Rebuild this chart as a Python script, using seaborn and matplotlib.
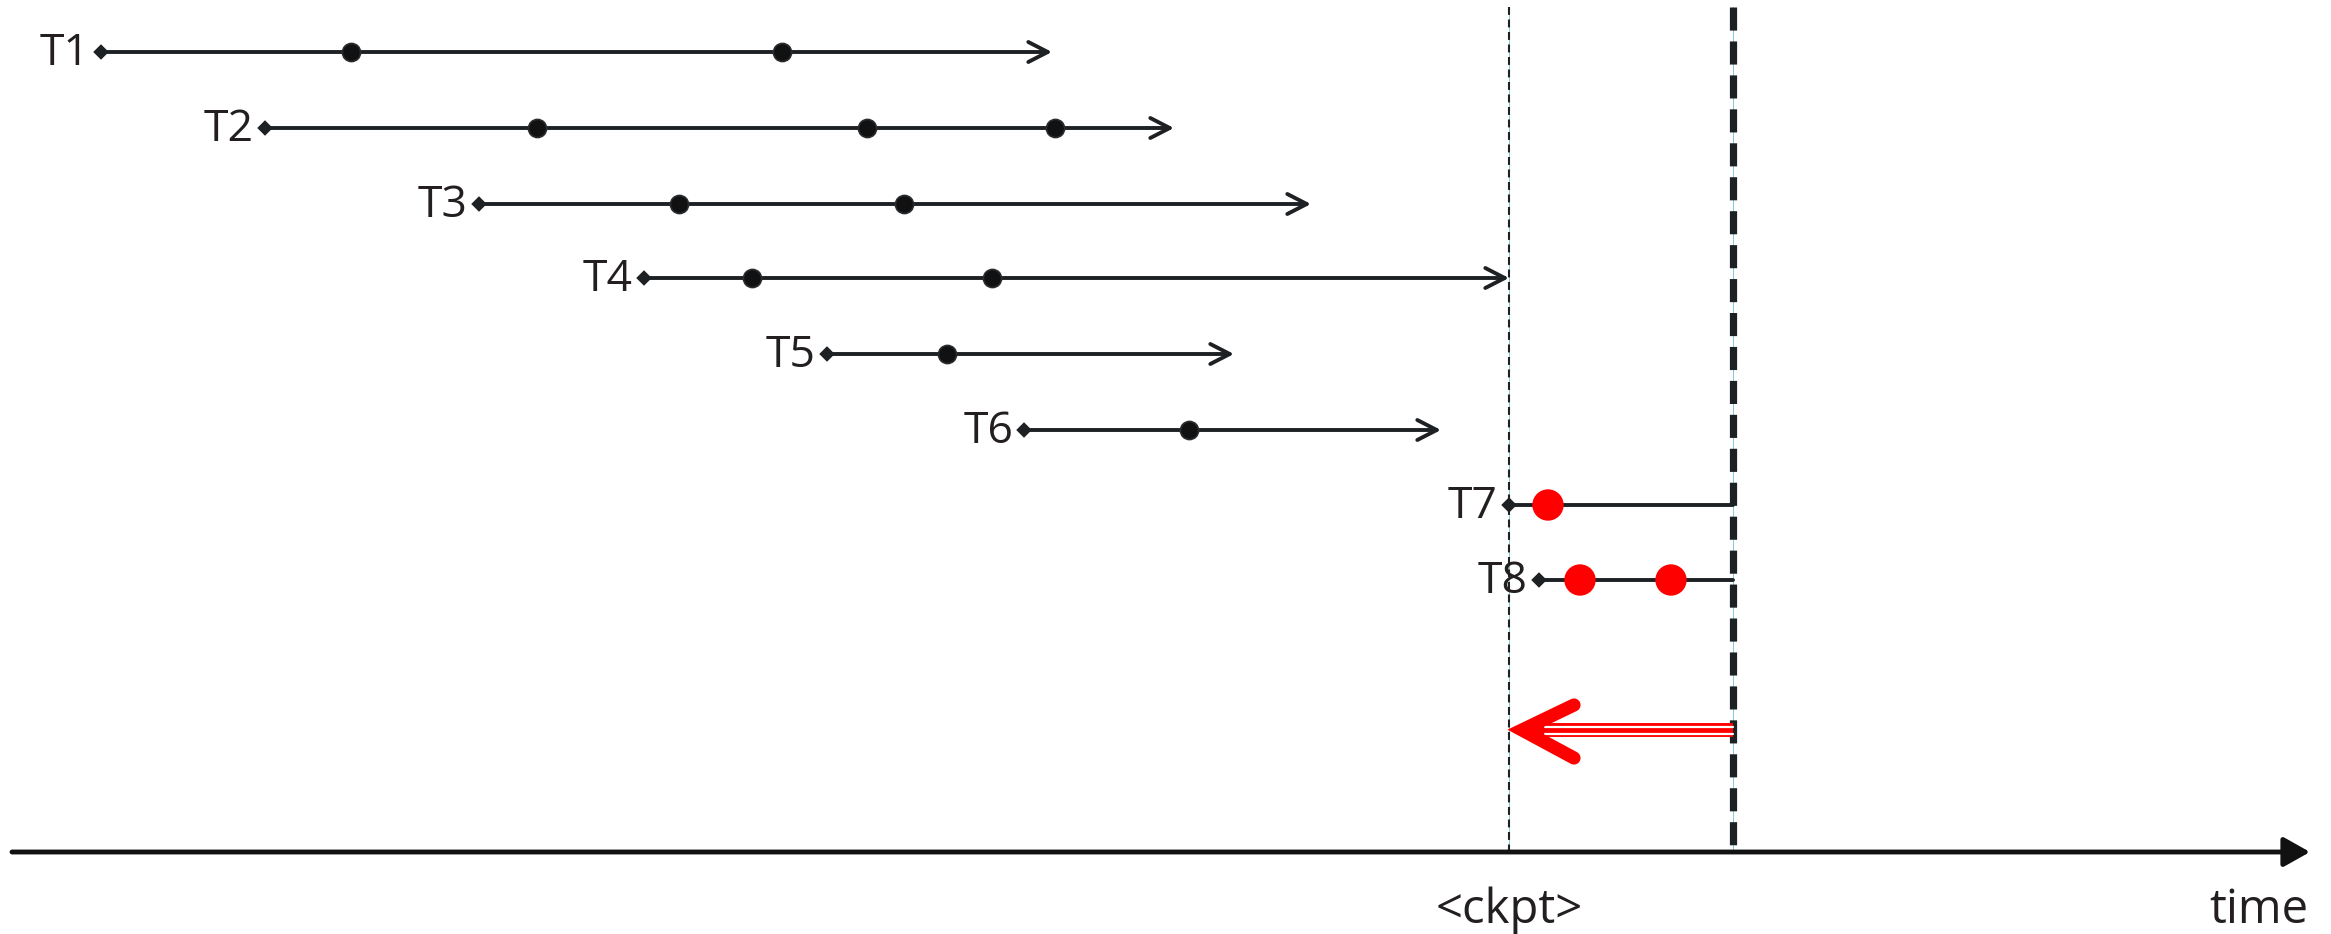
import seaborn as sns
import numpy as np
import pandas as pd
import matplotlib.pyplot as plt

# values (pixel-like time units, rows counted from the top)
tasks = ["T1", "T2", "T3", "T4", "T5", "T6", "T7", "T8"]
row_y = [52, 128, 204, 278, 354, 430, 505, 580]
start = [101, 265, 479, 644, 827, 1024, 1509, 1539]
end = [1052, 1174, 1311, 1509, 1234, 1441, 1733, 1733]
finished = [True, True, True, True, True, True, False, False]
events = [[351, 782], [537, 867, 1055], [679, 904], [752, 992], [947], [1189],
          [1548], [1580, 1671]]
ckpt = 1509
crash = 1733
axis_y = 852

sns.set_theme(style="white")
plt.rcParams['font.family'] = ['Open Sans', 'DejaVu Sans']
ink = "#1e2124"

fig = plt.figure(figsize=(23.31, 9.34), dpi=100)
ax = fig.add_axes([0, 0, 1, 1])
ax.set_xlim(0, 2331)
ax.set_ylim(934, 0)
ax.axis("off")

# vertical markers: checkpoint (thin dashes) and crash (thick dashes)
ax.plot([ckpt, ckpt], [7, axis_y], color=ink, lw=1.5, dashes=(3.8, 2.2), zorder=2)
ax.plot([ckpt, ckpt], [7, axis_y], color="#4fb3c8", lw=0.5, zorder=1)
ax.plot([crash, crash], [7, axis_y], color=ink, lw=5.2, dashes=(3.2, 1.5), zorder=2)
ax.plot([crash, crash], [7, axis_y], color="#4fb3c8", lw=0.5, zorder=1)

# task lifelines
for name, y, s, e, done in zip(tasks, row_y, start, end, finished):
    if done:
        ax.annotate("", xy=(e, y), xytext=(s, y),
                    arrowprops=dict(arrowstyle="->,head_length=0.7,head_width=0.36",
                                    color=ink, lw=2.8, shrinkA=0, shrinkB=0,
                                    mutation_scale=20), zorder=3)
    else:
        ax.plot([s, e], [y, y], color=ink, lw=2.8, zorder=3)
    ax.text(s - 11, y + 2, name, ha="right", va="center", fontsize=32, color="#231f20")

diamond = [(0, 1), (1, 0), (0, -1), (-1, 0)]
starts = pd.DataFrame({"x": start, "y": row_y})
sns.scatterplot(data=starts, x="x", y="y", marker=diamond, s=125, color=ink,
                edgecolor="none", ax=ax, zorder=4, legend=False)

rows = []
for y, ev, done in zip(row_y, events, finished):
    for x in ev:
        rows.append({"x": x, "y": y, "lost": not done})
ev_df = pd.DataFrame(rows)
sns.scatterplot(data=ev_df[~ev_df.lost], x="x", y="y", s=170, color="#111111",
                edgecolor="#2a2d30", linewidth=1.2, ax=ax, zorder=4, legend=False)
sns.scatterplot(data=ev_df[ev_df.lost], x="x", y="y", s=510, color="#ff0000",
                edgecolor="none", ax=ax, zorder=4, legend=False)

# rollback arrow
ry = 730
ax.plot([1525, crash], [ry, ry], color="#ff0000", lw=10, solid_capstyle="butt", zorder=3)
ax.plot([1545, crash], [ry - 3.5, ry - 3.5], color="white", lw=1.6, zorder=3)
ax.plot([1545, crash], [ry + 3.5, ry + 3.5], color="white", lw=1.6, zorder=3)
ax.plot([1574, 1522, 1574], [ry - 25, ry, ry + 28], color="#ff0000", lw=9.5,
        solid_capstyle="round", solid_joinstyle="miter", zorder=4)

# time axis
ax.annotate("", xy=(2310, axis_y), xytext=(12, axis_y),
            arrowprops=dict(arrowstyle="-|>,head_length=0.8,head_width=0.45",
                            color="#111111", lw=3.5, shrinkA=0, shrinkB=0,
                            mutation_scale=20), zorder=5)
ax.text(ckpt, 910, "<ckpt>", ha="center", va="center", fontsize=34, color="#231f20")
ax.text(2308, 910, "time", ha="right", va="center", fontsize=34, color="#231f20")

fig.savefig("out.png", dpi=100)
